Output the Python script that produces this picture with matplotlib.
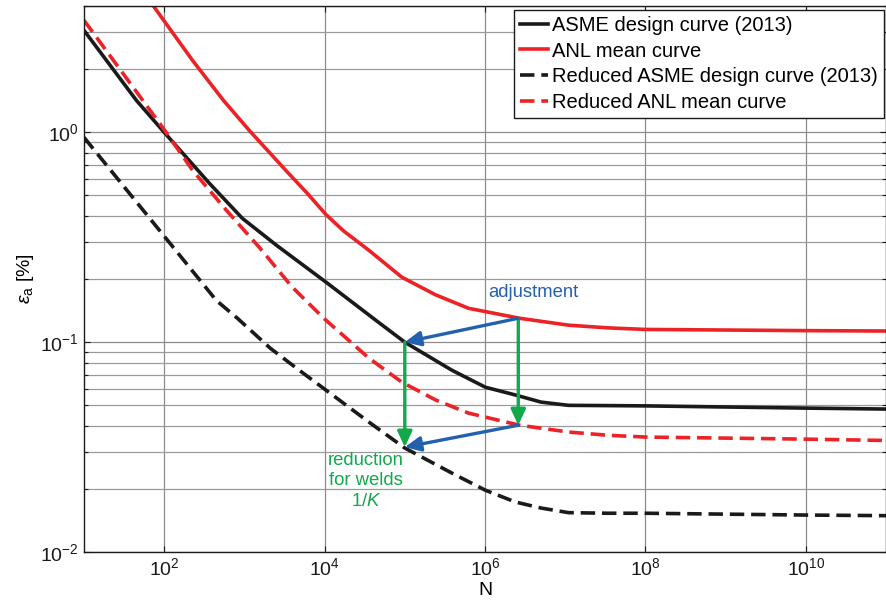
import matplotlib
matplotlib.use("Agg")
import matplotlib.pyplot as plt
from matplotlib.ticker import NullLocator, NullFormatter, LogLocator

plt.rcParams["font.family"] = ["Liberation Sans", "DejaVu Sans"]
plt.rcParams["mathtext.fontset"] = "custom"
plt.rcParams["mathtext.rm"] = "Liberation Sans"
plt.rcParams["mathtext.it"] = "Liberation Sans:italic"

# colours
RED   = "#ec2226"
INK   = "#1a1a1a"
BLUE  = "#2360ad"
GREEN = "#12a84c"
GRID  = "#8c8c8c"

# ---- curve data (N cycles, strain amplitude in %) ----
asme_N   = [10, 45, 100, 367, 944, 2500, 10440, 43700, 1e5, 3.84e5, 1.01e6,
            2.4e6, 5e6, 1.1e7, 1e8, 1e10, 1e11]
asme_eps = [3.06, 1.42, 1.0, 0.571, 0.389, 0.290, 0.193, 0.127, 0.1, 0.0736, 0.061,
            0.056, 0.0518, 0.050, 0.0497, 0.0485, 0.048]

anl_N   = [70, 226, 548, 1153, 3327, 6000, 10440, 17400, 35700, 91800, 2.43e5,
           6.24e5, 2.7e6, 1.1e7, 3.4e7, 1e8, 1e10, 1e11]
anl_eps = [4.1, 2.20, 1.42, 1.02, 0.655, 0.515, 0.405, 0.338, 0.274, 0.204, 0.168,
           0.145, 0.130, 0.1205, 0.117, 0.115, 0.1135, 0.113]

red_asme_N   = [10, 100, 447, 818, 2100, 4800, 35700, 1e5, 3.84e5, 1.01e6, 2.4e6,
                5e6, 1.1e7, 3.4e7, 1e8, 1e10, 1e11]
red_asme_eps = [0.946, 0.32, 0.158, 0.130, 0.0936, 0.0736, 0.0416, 0.0313, 0.0238, 0.0197,
                0.0173, 0.0162, 0.0154, 0.0153, 0.0153, 0.0150, 0.0149]

red_anl_N   = [10, 100, 226, 597, 1535, 3945, 9770, 35700, 91800, 2.43e5, 6.24e5,
               2.7e6, 1.1e7, 3.4e7, 1e8, 1e10, 1e11]
red_anl_eps = [3.42, 1.03, 0.659, 0.425, 0.283, 0.183, 0.130, 0.0839, 0.0645, 0.053, 0.0459,
               0.0402, 0.0373, 0.036, 0.0353, 0.0345, 0.034]

# arrows: (start N, start eps) -> (end N, end eps)
adjust_arrows = [((2.6e6, 0.130), (1e5, 0.100)),
                 ((2.6e6, 0.0402), (1e5, 0.0316))]
weld_arrows   = [((1e5, 0.100), (1e5, 0.0316)),
                 ((2.6e6, 0.130), (2.6e6, 0.0402))]

x_ticks = [1e2, 1e4, 1e6, 1e8, 1e10]

fig = plt.figure(figsize=(8.86, 6.04), dpi=100)
ax = fig.add_axes([84 / 886, 1 - 552 / 604, 802 / 886, 546 / 604])

LW = 2.6
dash = (4.0, 1.9)
ax.plot(asme_N, asme_eps, color=INK, lw=LW, label="ASME design curve (2013)")
ax.plot(anl_N, anl_eps, color=RED, lw=LW, label="ANL mean curve")
ax.plot(red_asme_N, red_asme_eps, color=INK, lw=LW, dashes=dash,
        label="Reduced ASME design curve (2013)")
ax.plot(red_anl_N, red_anl_eps, color=RED, lw=LW, dashes=dash,
        label="Reduced ANL mean curve")

ax.set_xscale("log")
ax.set_yscale("log")
ax.set_xlim(10, 1e11)
ax.set_ylim(0.01, 4)

ax.set_xticks(x_ticks)
ax.xaxis.set_minor_locator(NullLocator())
ax.yaxis.set_minor_locator(LogLocator(base=10, subs=range(2, 10)))
ax.yaxis.set_minor_formatter(NullFormatter())

ax.grid(True, which="major", color=GRID, lw=0.9)
ax.grid(True, which="minor", axis="y", color="#9a9a9a", lw=0.9)
ax.set_axisbelow(True)

ax.tick_params(which="both", direction="in", top=True, right=True,
               labelsize=14, colors=INK, width=0.8)
ax.tick_params(which="major", length=4)
ax.tick_params(which="minor", length=3)
for sp in ax.spines.values():
    sp.set_color(INK)
    sp.set_linewidth(1.0)

ax.set_xlabel("N", fontsize=14, labelpad=2)
ax.set_ylabel(r"$\varepsilon_{\mathrm{a}}$ [%]", fontsize=14, labelpad=3)

arrow_kw = dict(arrowstyle="-|>,head_length=0.47,head_width=0.22",
                lw=2.4, shrinkA=0, shrinkB=0, mutation_scale=20)
for (n0, e0), (n1, e1) in weld_arrows:
    ax.annotate("", xy=(n1, e1), xytext=(n0, e0),
                arrowprops=dict(color=GREEN, **arrow_kw), zorder=5)
for (n0, e0), (n1, e1) in adjust_arrows:
    ax.annotate("", xy=(n1, e1), xytext=(n0, e0),
                arrowprops=dict(color=BLUE, **arrow_kw), zorder=6)

ax.text(4.0e6, 0.173, "adjustment", color=BLUE, fontsize=13.3,
        ha="center", va="center")
ax.text(3.3e4, 0.0218, "reduction\nfor welds\n1/$\\mathit{K}$", color=GREEN,
        fontsize=13.3, ha="center", va="center", multialignment="center",
        linespacing=1.25)

leg = ax.legend(loc="upper right", bbox_to_anchor=(0.997, 0.993), fontsize=14.5,
                frameon=True, fancybox=False, edgecolor=INK, framealpha=1,
                handlelength=1.4, handletextpad=0.2, labelspacing=0.33,
                borderpad=0.3, borderaxespad=0)
leg.get_frame().set_linewidth(1.0)

fig.savefig("out.png", dpi=100)
